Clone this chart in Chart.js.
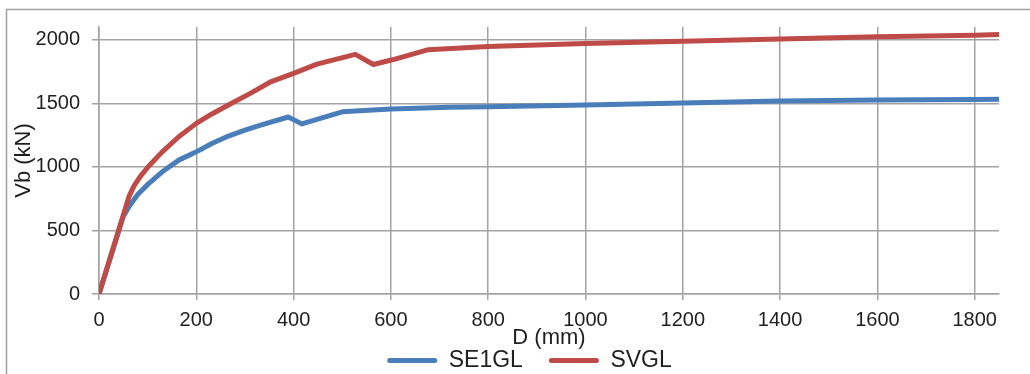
<!DOCTYPE html>
<html>
<head>
<meta charset="utf-8">
<script src="https://cdn.jsdelivr.net/npm/chart.js@4.4.1/dist/chart.umd.min.js"></script>
<style>
html,body{margin:0;padding:0;background:#fff;overflow:hidden}
canvas{display:block}
</style>
</head>
<body>
<canvas id="c" width="1030" height="374"></canvas>
<script>
// ---- data ----
const seriesNames = ['SE1GL', 'SVGL'];
const xTitle = 'D (mm)';
const yTitle = 'Vb (kN)';
const xTickValues = [0, 200, 400, 600, 800, 1000, 1200, 1400, 1600, 1800];
const yTickValues = [0, 500, 1000, 1500, 2000];

const se1glD  = [0, 50, 62, 80, 102, 130, 164, 200, 232, 266, 300, 334, 389, 417, 500, 600, 720, 800, 1000, 1200, 1400, 1600, 1800, 1850];
const se1glVb = [0, 610, 690, 785, 868, 961, 1053, 1118, 1184, 1242, 1289, 1330, 1392, 1338, 1433, 1455, 1468, 1472, 1487, 1503, 1518, 1525, 1530, 1532];

const svglD  = [0, 62, 72, 85, 102, 130, 164, 200, 232, 266, 311, 354, 400, 448, 527, 564, 605, 677, 800, 1000, 1200, 1400, 1600, 1800, 1850];
const svglVb = [0, 770, 850, 925, 1005, 1118, 1237, 1342, 1416, 1487, 1578, 1671, 1736, 1808, 1885, 1805, 1844, 1922, 1947, 1970, 1987, 2005, 2023, 2036, 2041];

// ---- styling ----
const FONT = "'Liberation Sans', Arial, sans-serif";
const TEXT = '#1f1f1f';
const GRID = '#a3a3a3';
const BLUE = '#4a7ebb';
const RED = '#be4b48';

const toPts = (xs, ys) => xs.map((x, i) => ({x: x, y: ys[i]}));

const framePlugin = {
  id: 'frame',
  beforeDraw(chart) {
    const c = chart.ctx;
    c.save();
    c.strokeStyle = '#a0a0a0';
    c.lineWidth = 1.5;
    c.beginPath();
    c.moveTo(6.5, 374);
    c.lineTo(6.5, 9.5);
    c.lineTo(1030, 9.5);
    c.stroke();
    c.restore();
  }
};

// fine placement of legend and x-axis box (they overlap slightly in the reference)
const layoutTweak = {
  id: 'layoutTweak',
  afterLayout(chart) {
    const l = chart.legend;
    if (l) {
      l.top += 8; l.bottom += 8;
      l.left += 30; l.right += 30;
    }
    const xs = chart.scales.x;
    xs.bottom = 351;
    xs.height = xs.bottom - xs.top;
  }
};

new Chart(document.getElementById('c'), {
  type: 'line',
  data: {
    datasets: [
      {
        label: seriesNames[0],
        data: toPts(se1glD, se1glVb),
        borderColor: BLUE,
        backgroundColor: BLUE,
        borderWidth: 5,
        pointRadius: 0,
        tension: 0,
        borderJoinStyle: 'round',
        borderCapStyle: 'round',
        order: 1
      },
      {
        label: seriesNames[1],
        data: toPts(svglD, svglVb),
        borderColor: RED,
        backgroundColor: RED,
        borderWidth: 5,
        pointRadius: 0,
        tension: 0,
        borderJoinStyle: 'round',
        borderCapStyle: 'round',
        order: 0
      }
    ]
  },
  options: {
    responsive: false,
    animation: false,
    layout: { padding: { top: 27, right: 31, left: 0, bottom: 0 } },
    plugins: {
      tooltip: { enabled: false },
      legend: {
        position: 'bottom',
        labels: {
          font: { family: FONT, size: 23 },
          color: TEXT,
          boxWidth: 50,
          boxHeight: 5,
          padding: 26,
          useBorderRadius: true,
          borderRadius: 2.5,
          sort: (a, b) => a.datasetIndex - b.datasetIndex,
          generateLabels(chart) {
            return Chart.defaults.plugins.legend.labels.generateLabels(chart).map(it => {
              const ds = chart.data.datasets[it.datasetIndex];
              it.fillStyle = ds.borderColor;
              it.strokeStyle = ds.borderColor;
              it.lineWidth = 0;
              return it;
            });
          }
        }
      }
    },
    scales: {
      x: {
        type: 'linear',
        min: 0,
        max: 1850,
        afterBuildTicks: s => { s.ticks = xTickValues.map(v => ({value: v})); },
        afterFit: s => { s.height = 21; },
        grid: { color: GRID, lineWidth: 1.5, tickLength: 6, drawTicks: true },
        border: { color: GRID, width: 1.5 },
        ticks: { font: { family: FONT, size: 20 }, color: TEXT, padding: 8, maxRotation: 0,
                 callback: v => String(v) },
        title: {
          display: true,
          text: xTitle,
          font: { family: FONT, size: 22 },
          color: TEXT,
          padding: { top: 0, bottom: 0 }
        }
      },
      y: {
        min: 0,
        max: 2100,
        afterBuildTicks: s => { s.ticks = yTickValues.map(v => ({value: v})); },
        afterFit: s => { s.width = 99; },
        grid: { color: GRID, lineWidth: 1.5, tickLength: 7, drawTicks: true },
        border: { color: GRID, width: 1.5 },
        ticks: { font: { family: FONT, size: 20 }, color: TEXT, padding: 12,
                 callback: v => String(v) },
        title: {
          display: true,
          text: yTitle,
          font: { family: FONT, size: 22 },
          color: TEXT,
          padding: { top: 11, bottom: 0 }
        }
      }
    }
  },
  plugins: [framePlugin, layoutTweak]
});
</script>
</body>
</html>
